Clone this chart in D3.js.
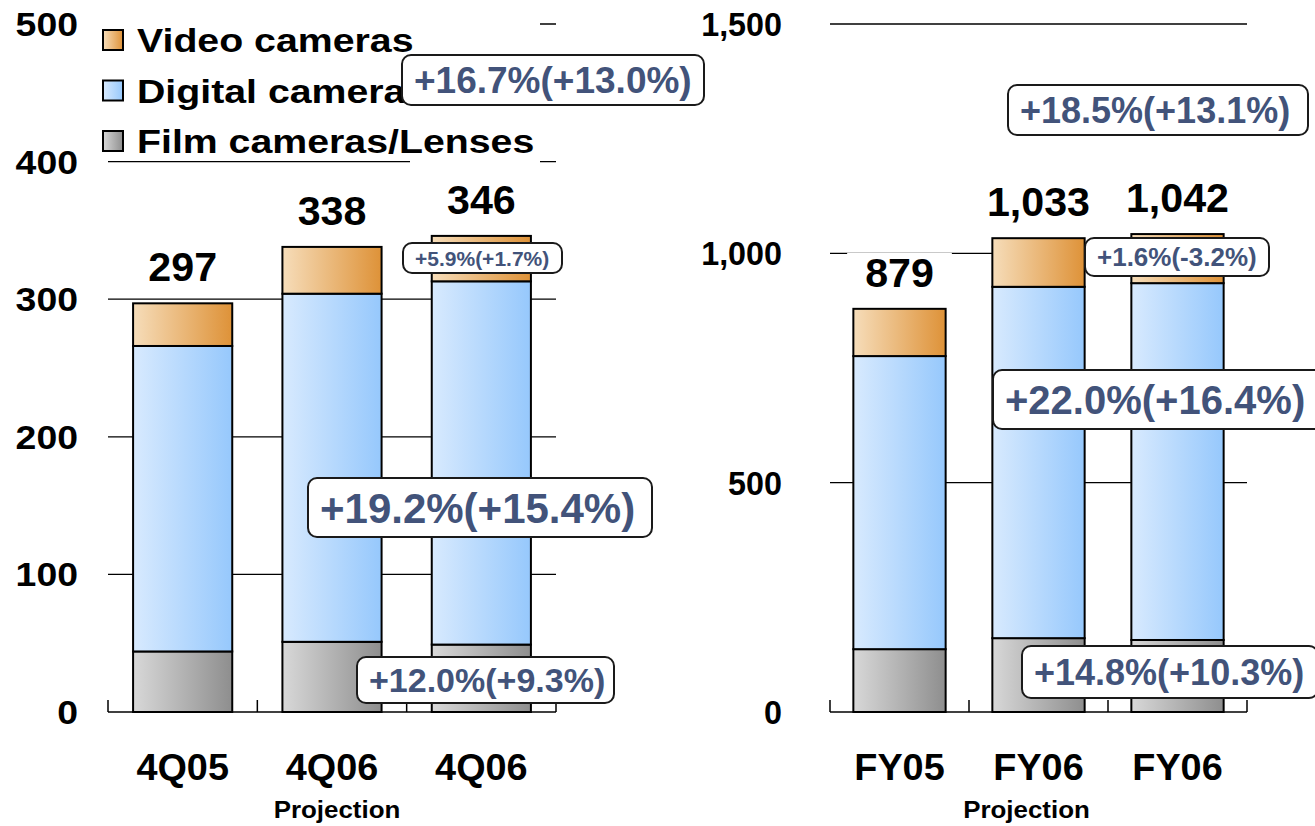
<!DOCTYPE html>
<html><head><meta charset="utf-8">
<script src="https://cdn.jsdelivr.net/npm/d3@7"></script>
<style>
html,body{margin:0;padding:0;background:#fff;}
svg{display:block;font-family:"Liberation Sans",Arial,sans-serif;font-weight:bold;}
</style></head>
<body><svg id="c" width="1315" height="826"></svg>
<script>
// ---------- data ----------
const seriesNames = ["Video cameras", "Digital camera", "Film cameras/Lenses"];
const leftCategories = ["4Q05", "4Q06", "4Q06"];
const leftFilm = [44, 51, 49];
const leftDigital = [222, 253, 264];
const leftVideo = [31, 34, 33];
const leftTotalLabels = ["297", "338", "346"];
const leftTicks = [0, 100, 200, 300, 400, 500];

const rightCategories = ["FY05", "FY06", "FY06"];
const rightFilm = [137, 161, 157];
const rightDigital = [639, 766, 778];
const rightVideo = [103, 106, 107];
const rightTotalLabels = ["879", "1,033", "1,042"];
const rightTicks = [0, 500, 1000, 1500];

const subLabel = "Projection";

const leftNotes = ["+16.7%(+13.0%)", "+5.9%(+1.7%)", "+19.2%(+15.4%)", "+12.0%(+9.3%)"];
const rightNotes = ["+18.5%(+13.1%)", "+1.6%(-3.2%)", "+22.0%(+16.4%)", "+14.8%(+10.3%)"];

// ---------- layout ----------
const svg = d3.select("#c");
const defs = svg.append("defs");
function grad(id, c0, c1){
  const g = defs.append("linearGradient").attr("id", id).attr("x1","0%").attr("x2","100%").attr("y1","0%").attr("y2","0%");
  g.append("stop").attr("offset","0%").attr("stop-color",c0);
  g.append("stop").attr("offset","100%").attr("stop-color",c1);
}
grad("gVideo", "#F6DDBA", "#DE9238");
grad("gDigital", "#D8EAFE", "#96C8FC");
grad("gFilm", "#D8D8D8", "#8E8E8E");
const fills = ["url(#gFilm)", "url(#gDigital)", "url(#gVideo)"];
const legendFills = ["url(#gVideo)", "url(#gDigital)", "url(#gFilm)"];
const noteColor = "#42537A";

function txt(g, x, y, s, size, sx, anchor, color){
  return g.append("text")
    .attr("transform", `translate(${x},${y}) scale(${sx},1)`)
    .attr("text-anchor", anchor || "middle")
    .attr("font-size", size)
    .attr("fill", color || "#000")
    .text(s);
}

function drawChart(cfg){
  const g = svg.append("g");
  const x = d3.scaleBand().domain(d3.range(cfg.cats.length)).range([cfg.x0, cfg.x1]).paddingInner(0.336).paddingOuter(0.168);
  const y = d3.scaleLinear().domain([0, cfg.max]).range([712, 24]);

  // gridlines
  g.append("g").selectAll("line").data(cfg.ticks.filter(d => d > 0)).join("line")
    .attr("x1", cfg.x0).attr("x2", cfg.x1)
    .attr("y1", d => y(d)).attr("y2", d => y(d))
    .attr("stroke", "#000").attr("stroke-width", 1.3);

  // y tick labels
  cfg.ticks.forEach(t => txt(g, cfg.tickX, y(t) + 12, cfg.fmt(t), 34, cfg.tickSx, "end"));

  // stacked bars
  const rows = cfg.cats.map((c, i) => ({i, vals: [cfg.film[i], cfg.digital[i], cfg.video[i]]}));
  const stackData = rows.map(r => {
    let acc = 0;
    return r.vals.map((v, k) => { const s = {i: r.i, k, y0: acc, y1: acc + v}; acc += v; return s; });
  }).flat();
  g.append("g").selectAll("rect").data(stackData).join("rect")
    .attr("x", d => x(d.i)).attr("width", x.bandwidth())
    .attr("y", d => y(d.y1)).attr("height", d => y(d.y0) - y(d.y1))
    .attr("fill", d => fills[d.k]).attr("stroke", "#000").attr("stroke-width", 2);

  // x axis line + ticks
  g.append("line").attr("x1", cfg.x0).attr("x2", cfg.x1).attr("y1", y(0)).attr("y2", y(0))
    .attr("stroke", "#000").attr("stroke-width", 1.5);
  const bounds = d3.range(cfg.cats.length + 1).map(k => cfg.x0 + k * x.step());
  g.append("g").selectAll("line").data(bounds).join("line")
    .attr("x1", d => d).attr("x2", d => d).attr("y1", y(0)).attr("y2", y(0) - 12)
    .attr("stroke", "#000").attr("stroke-width", 1.5);

  // category labels
  cfg.cats.forEach((c, i) => txt(g, x(i) + x.bandwidth()/2, 780, c, 36, 1.05));
  txt(g, x(1) + x.bandwidth()/2 + cfg.projDx, 818, subLabel, 24, 1.08);

  return {g, x, y};
}

const L = drawChart({cats: leftCategories, film: leftFilm, digital: leftDigital, video: leftVideo,
  ticks: leftTicks, max: 500, x0: 108, x1: 556, tickX: 78, tickSx: 1.1, fmt: d3.format(","), projDx: 5});
const R = drawChart({cats: rightCategories, film: rightFilm, digital: rightDigital, video: rightVideo,
  ticks: rightTicks, max: 1500, x0: 830, x1: 1247, tickX: 782, tickSx: 0.95, fmt: d3.format(","), projDx: -12});

// legend (white background hides gridlines behind it)
const lg = svg.append("g");
lg.append("path").attr("d", "M96,6H540V170H410V158H96Z").attr("fill", "#fff");
seriesNames.forEach((n, k) => {
  const yy = 30 + k * 50.5;
  lg.append("rect").attr("x", 103).attr("y", yy).attr("width", 20).attr("height", 20)
    .attr("fill", legendFills[k]).attr("stroke", "#000").attr("stroke-width", 2);
  txt(lg, 137, yy + 22, n, 33, 1.19, "start");
});

// total value labels with white backgrounds
function totals(ch, labels, film, digital, video){
  labels.forEach((s, i) => {
    const top = ch.y(film[i] + digital[i] + video[i]);
    const cx = ch.x(i) + ch.x.bandwidth()/2;
    const t = txt(ch.g, cx, top - 22, s, 40, 1.03);
    const w = t.node().getComputedTextLength() * 1.03;
    ch.g.insert("rect", function(){ return t.node(); })
      .attr("x", cx - w/2 - 18).attr("y", top - 56).attr("width", w + 36).attr("height", 40).attr("fill", "#fff");
  });
}
totals(L, leftTotalLabels, leftFilm, leftDigital, leftVideo);
totals(R, rightTotalLabels, rightFilm, rightDigital, rightVideo);

// growth annotation boxes: [left, top, right, bottom, font size]
const leftBoxes = [[402, 55, 704, 105, 37], [403, 243, 562, 273, 21], [308, 478, 652, 537, 42], [357, 657, 614, 703, 34]];
const rightBoxes = [[1008, 85, 1308, 135, 36], [1085, 238, 1269, 276, 26], [993, 370, 1338, 429, 40], [1022, 646, 1318, 698, 36]];
function notes(list, boxes){
  const g = svg.append("g");
  list.forEach((s, i) => {
    const [x0, y0, x1, y1, fs] = boxes[i];
    g.append("rect").attr("x", x0).attr("y", y0).attr("width", x1 - x0).attr("height", y1 - y0)
      .attr("rx", 9).attr("fill", "#fff").attr("stroke", "#1a1a1a").attr("stroke-width", 2);
    g.append("text").attr("x", x0 + 12).attr("y", (y0 + y1)/2 + fs * 0.36)
      .attr("font-size", fs).attr("fill", noteColor).text(s);
  });
}
notes(leftNotes, leftBoxes);
notes(rightNotes, rightBoxes);
</script></body></html>
